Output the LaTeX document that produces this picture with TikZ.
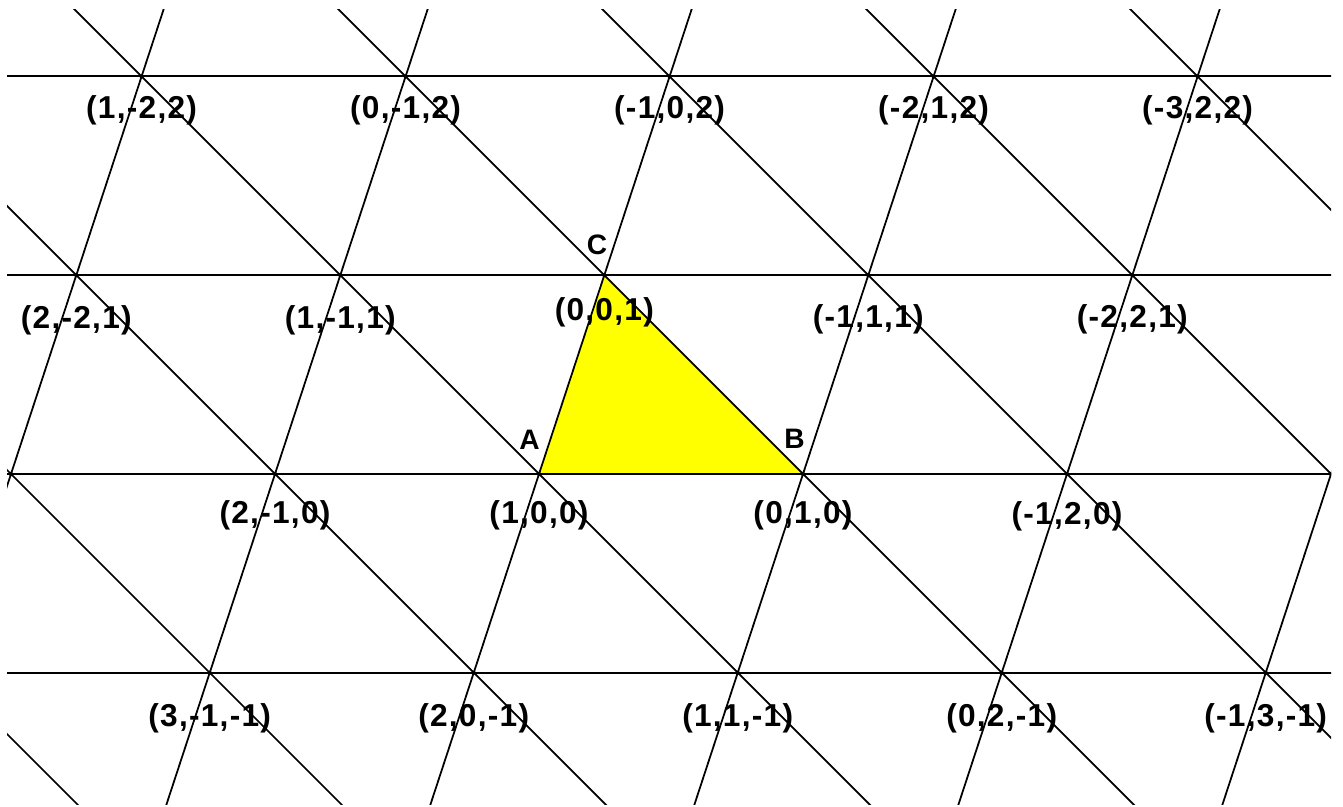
\documentclass[tikz,border=0pt]{standalone}
\usepackage{fontspec}
\setmainfont{Liberation Sans}
\newfontfamily\lblfont[LetterSpace=4]{Liberation Sans}
\definecolor{triyellow}{RGB}{255,255,0}
\begin{document}
\begin{tikzpicture}[x=0.01cm,y=-0.01cm,
  hline/.style={line width=0.6pt},
  lline/.style={line width=0.5pt},
  coordlbl/.style={font=\lblfont\bfseries\fontsize{9}{10}\selectfont, anchor=base, inner sep=0pt},
  vtxlbl/.style={font=\lblfont\bfseries\fontsize{8}{9}\selectfont, anchor=base, inner sep=0pt},
  ptdot/.style={fill=black}]
\useasboundingbox (0,0) rectangle (1343,807);
\coordinate (A) at (539,474);
\coordinate (B) at (803,474);
\coordinate (C) at (604.3,275.2);
\fill[triyellow] (A) -- (B) -- (C) -- cycle;
\begin{scope}
  \clip (7,10) rectangle (1331,804);
  \foreach \k in {-1,0,1,2}
    \draw[hline] (0,{474-198.8*\k}) -- (1343,{474-198.8*\k});
  \foreach \i in {-2,...,3}
    \draw[lline] ({539+264*\i-3*65.3},{474+3*198.8}) -- ({539+264*\i+3*65.3},{474-3*198.8});
  \foreach \j in {-4,...,3}
    \draw[lline] ({803+264*\j-600},{474-600}) -- ({803+264*\j+600},{474+600});
  \foreach \k/\ilo/\ihi in {-1/-1/3, 0/-2/3, 1/-2/2, 2/-2/2}
    \foreach \i in {\ilo,...,\ihi}
      \fill[ptdot] ({539+264*\i+65.3*\k},{474-198.8*\k}) circle[radius=0.6pt];
\end{scope}
% vertex letters
\node[vtxlbl] (labA) at (529.6,450) {A};
\node[vtxlbl] (labB) at (794.5,449) {B};
\node[vtxlbl] (labC) at (597,255) {C};
% row k=2
\node[coordlbl] (l1) at (141.6,119) {(1,-2,2)};
\node[coordlbl] (l2) at (405.6,119) {(0,-1,2)};
\node[coordlbl] (l3) at (669.6,119) {(-1,0,2)};
\node[coordlbl] (l4) at (933.6,119) {(-2,1,2)};
\node[coordlbl] (l5) at (1197.6,119) {(-3,2,2)};
% row k=1
\node[coordlbl] (l6) at (76.3,329) {(2,-2,1)};
\node[coordlbl] (l7) at (340.3,329) {(1,-1,1)};
\node[coordlbl] (l8) at (604.3,321) {(0,0,1)};
\node[coordlbl] (l9) at (868.3,328) {(-1,1,1)};
\node[coordlbl] (l10) at (1132.3,328) {(-2,2,1)};
% row k=0
\node[coordlbl] (l11) at (275,524) {(2,-1,0)};
\node[coordlbl] (l12) at (539,523.5) {(1,0,0)};
\node[coordlbl] (l13) at (803,523.5) {(0,1,0)};
\node[coordlbl] (l14) at (1067,524.5) {(-1,2,0)};
% row k=-1
\node[coordlbl] (l15) at (209.7,726.5) {(3,-1,-1)};
\node[coordlbl] (l16) at (473.7,726.5) {(2,0,-1)};
\node[coordlbl] (l17) at (737.7,726.5) {(1,1,-1)};
\node[coordlbl] (l18) at (1001.7,726.5) {(0,2,-1)};
\node[coordlbl] (l19) at (1265.7,726.5) {(-1,3,-1)};
\end{tikzpicture}
\end{document}
